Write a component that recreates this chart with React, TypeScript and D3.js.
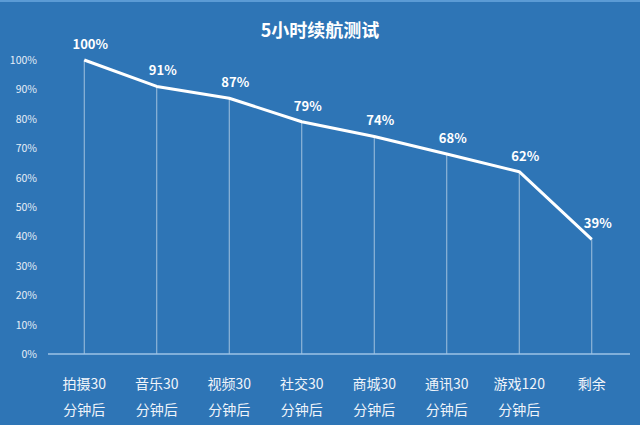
import * as d3 from "d3";

const categories = ["拍摄30|分钟后", "音乐30|分钟后", "视频30|分钟后", "社交30|分钟后", "商城30|分钟后", "通讯30|分钟后", "游戏120|分钟后", "剩余"];
const values = [100, 91, 87, 79, 74, 68, 62, 39];
const yTicks = [0, 10, 20, 30, 40, 50, 60, 70, 80, 90, 100];

const W = 640;
const H = 425;
const font = "'Noto Sans CJK SC', 'Noto Sans', sans-serif";

export default function App() {
  const x = d3.scaleBand<number>().domain(d3.range(categories.length)).range([48, 628]);
  const y = d3.scaleLinear().domain([0, 100]).range([354, 60]);
  const cx = (i: number) => x(i)! + x.bandwidth() / 2;

  const line = d3
    .line<number>()
    .x((_, i) => cx(i))
    .y((d) => y(d));

  return (
    <div style={{ position: "fixed", left: 0, top: 0 }}>
      <svg width={W} height={H} style={{ display: "block" }}>
        <rect x={0} y={0} width={W} height={H} fill="#2e75b6" />
        <rect x={0} y={0} width={W} height={2} fill="#5b9bd5" />
        <text x={320} y={37} textAnchor="middle" fill="#fff" fontFamily={font} fontWeight="bold" fontSize={18}>
          5小时续航测试
        </text>
        {yTicks.map((t) => (
          <text key={t} x={37} y={y(t) + 4} textAnchor="end" fill="#e6eef8" fontFamily={font} fontSize={10.5}>
            {t}%
          </text>
        ))}
        {values.map((v, i) => (
          <line key={i} x1={cx(i)} x2={cx(i)} y1={y(v)} y2={y(0)} stroke="#fff" strokeOpacity={0.55} strokeWidth={1} />
        ))}
        <line x1={48} x2={630} y1={y(0)} y2={y(0)} stroke="#9dc3e6" strokeWidth={1.5} />
        <path d={line(values)!} fill="none" stroke="#fff" strokeWidth={3} strokeLinejoin="round" />
        {values.map((v, i) => (
          <text key={i} x={cx(i) + 6} y={y(v) - 11} textAnchor="middle" fill="#fff" fontFamily={font} fontWeight="bold" fontSize={13}>
            {v}%
          </text>
        ))}
        {categories.map((c, i) =>
          c.split("|").map((s, j) => (
            <text key={i + "-" + j} x={cx(i)} y={389 + j * 26} textAnchor="middle" fill="#f0f4fa" fontFamily={font} fontSize={14}>
              {s}
            </text>
          ))
        )}
      </svg>
    </div>
  );
}
